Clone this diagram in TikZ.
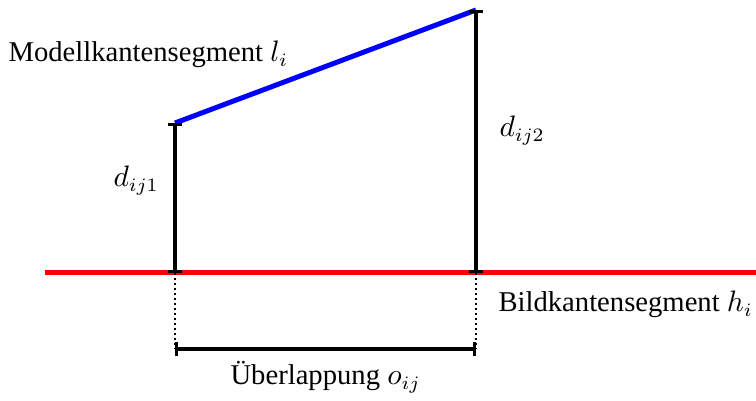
\documentclass[tikz,border=0pt]{standalone}
\usepackage{fontspec}
\setmainfont{Liberation Serif}
\usetikzlibrary{arrows.meta}
\begin{document}
\begin{tikzpicture}[x=0.37pt,y=-0.37pt,
  seg/.style={line width=1.25pt,{Bar[width=5.2pt,line width=1.25pt]}-{Bar[width=5.2pt,line width=1.25pt]}},
  dots/.style={line width=0.7pt,dash pattern=on 0.6pt off 1.25pt},
  lbl/.style={inner sep=0pt,anchor=base west,font=\fontsize{10.6}{12.7}\selectfont}]
\useasboundingbox (0,0) rectangle (756,401);
\coordinate (a1) at (175,123);
\coordinate (a2) at (476,10);
\coordinate (b1) at (175,273);
\coordinate (b2) at (476,273);
\coordinate (c1) at (175,349);
\coordinate (c2) at (476,349);
\coordinate (r0) at (45,273);
\coordinate (r1) at (756,273);
\draw[red,line width=1.85pt] (r0) -- (r1);
\draw[blue,line width=1.85pt] (a1) -- (a2);
\draw[seg] (b1) -- (a1);
\draw[seg] (b2) -- (a2);
\draw[dots] (b1) -- (c1);
\draw[dots] (b2) -- (c2);
\draw[seg] (c1) -- (c2);
\node[lbl] (lm) at (8,62) {Modellkantensegment $l_i$};
\node[lbl] (lb) at (498,312) {Bildkantensegment $h_i$};
\node[lbl] (lu) at (230,385) {Überlappung $o_{ij}$};
\node[lbl] (ld1) at (113,187) {$d_{ij1}$};
\node[lbl] (ld2) at (499,137) {$d_{ij2}$};
\end{tikzpicture}
\end{document}
